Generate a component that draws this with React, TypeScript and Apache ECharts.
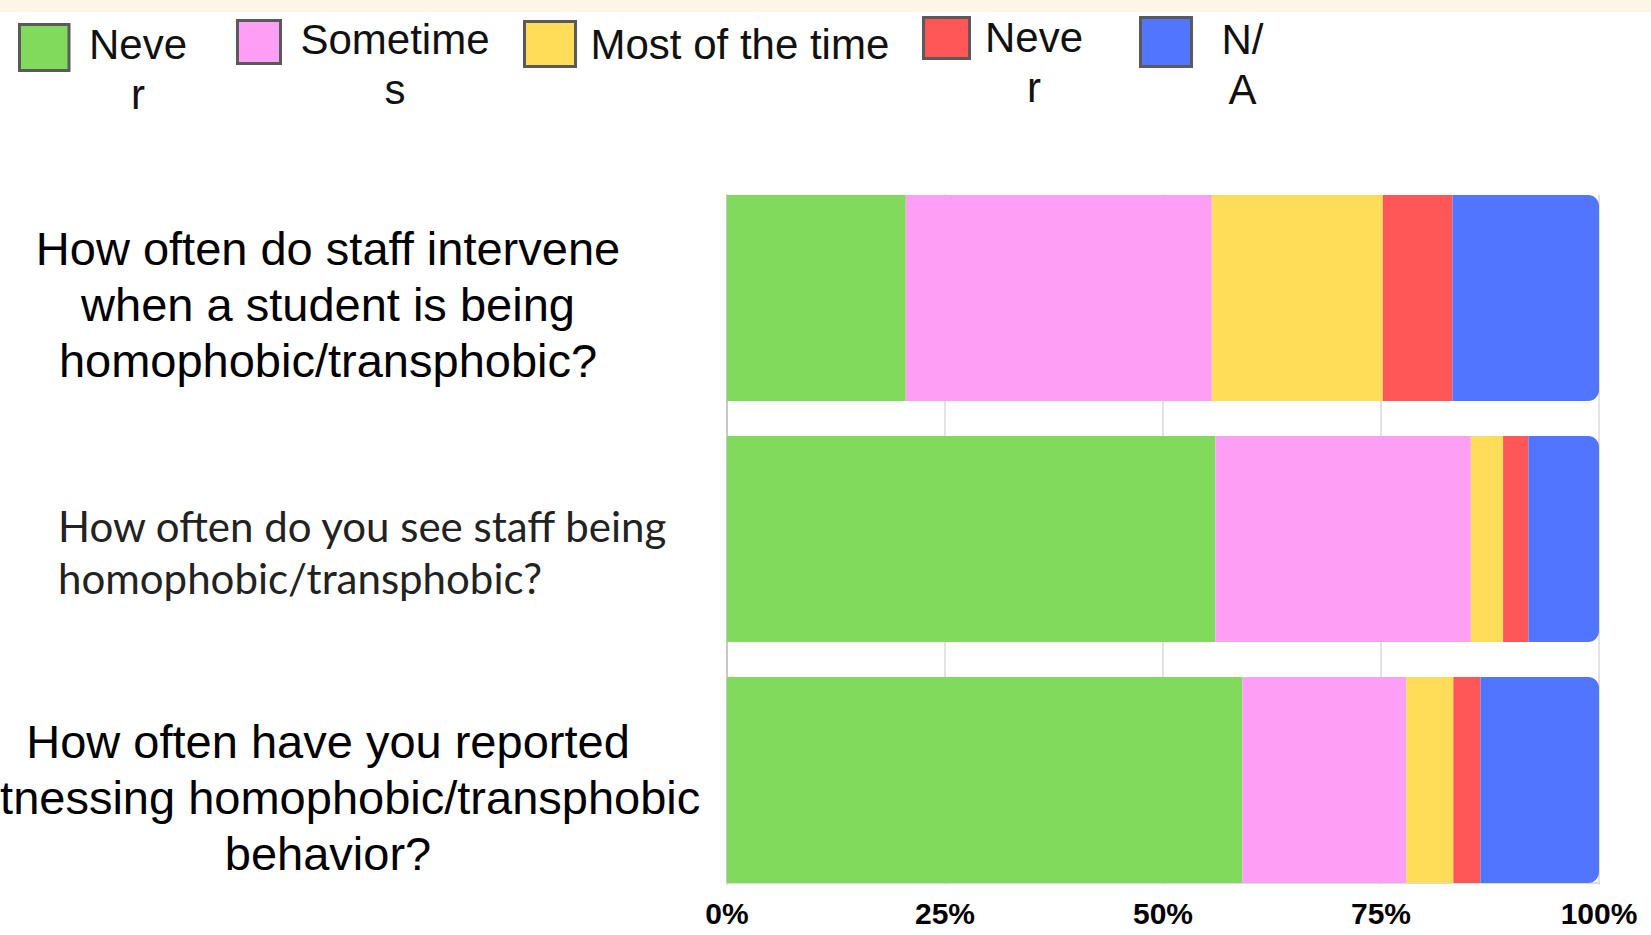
import { useEffect, useRef } from 'react';
import * as echarts from 'echarts';

// Survey questions (category axis, top to bottom)
const questions = [
  'How often do staff intervene\nwhen a student is being\nhomophobic/transphobic?',
  'How often do you see staff being\nhomophobic/transphobic?',
  'How often have you reported\nwitnessing homophobic/transphobic\nbehavior?',
];

// Response options, in stacking order
const responseNames = ['Never', 'Sometimes', 'Most of the time', 'Never', 'N/A'];
// How each legend entry wraps inside its narrow legend cell
const responseLegendLines = [['Neve', 'r'], ['Sometime', 's'], ['Most of the time'], ['Neve', 'r'], ['N/', 'A']];

// Share of answers per question (%)
const neverFirst = [20.5, 56.0, 59.1];
const sometimes = [35.1, 29.3, 18.8];
const mostOfTheTime = [19.6, 3.7, 5.4];
const neverSecond = [8.0, 2.9, 3.1];
const notApplicable = [16.8, 8.1, 13.6];

const percentTicks = [0, 25, 50, 75, 100];

const seriesValues = [neverFirst, sometimes, mostOfTheTime, neverSecond, notApplicable];
const seriesKeys = ['never-first', 'sometimes', 'most', 'never-second', 'na'];
const seriesColors = ['#82da5c', '#fd9ff5', '#ffdd59', '#ff5757', '#5275ff'];

// Plot geometry
const GRID_LEFT = 727;
const GRID_RIGHT = 52;
const GRID_TOP = 177.5;
const BAND = 241;
const BAR_GAP = 35;
const GRID_HEIGHT = BAND * questions.length;

// Legend cell placement
const legendCells = [
  { left: 18, top: 23, w: 49.5, h: 46, tokenWidth: 128, align: 'center', pad: [43, 0, 0, 0] },
  { left: 236, top: 18, w: 43, h: 43, tokenWidth: 219, align: 'center', pad: [44, 0, 0, 0] },
  { left: 523, top: 20, w: 51, h: 45, tokenWidth: 300, align: 'left', pad: [0, 0, 0, 10] },
  { left: 922, top: 16, w: 46, h: 41, tokenWidth: 119, align: 'center', pad: [48, 0, 0, 0] },
  { left: 1139, top: 16, w: 51, h: 49, tokenWidth: 92, align: 'center', pad: [44, 0, 0, 0] },
];

// Downward nudge of each question label
const labelShift = [12, 26, 34];

export default function App() {
  const ref = useRef<HTMLDivElement>(null);

  useEffect(() => {
    if (!ref.current) return;
    const chart = echarts.init(ref.current, undefined, { renderer: 'svg' });

    const legends = legendCells.map((cell, i) => ({
      data: [seriesKeys[i]],
      left: cell.left,
      top: cell.top,
      padding: 0,
      icon: 'rect',
      itemWidth: cell.w,
      itemHeight: cell.h,
      selectedMode: false,
      itemStyle: { borderColor: '#5a5a5a', borderWidth: 3 },
      formatter: () => responseLegendLines[i].map((l) => `{t|${l}}`).join('\n'),
      textStyle: {
        padding: cell.pad[0] ? [cell.pad[0], 0, 0, 0] : 0,
        rich: {
          t: {
            fontFamily: 'Liberation Sans',
            fontSize: 42,
            lineHeight: 50,
            color: '#111',
            width: cell.align === 'center' ? cell.tokenWidth : undefined,
            align: cell.align,
            padding: cell.align === 'left' ? cell.pad : 0,
          },
        },
      },
    }));

    const labelRich = {
      q0: { fontFamily: 'Liberation Sans', fontSize: 47, lineHeight: 56, width: 766, align: 'center', color: '#000' },
      q1: { fontFamily: 'Lato', fontSize: 42, lineHeight: 52, width: 653, align: 'left', color: '#222' },
      q2: { fontFamily: 'Liberation Sans', fontSize: 47, lineHeight: 56, width: 766, align: 'center', color: '#000' },
    };

    const halfGap = BAR_GAP / 2;
    const gridBottomY = GRID_TOP + GRID_HEIGHT;

    chart.setOption({
      animation: false,
      backgroundColor: '#ffffff',
      legend: legends,
      grid: {
        left: GRID_LEFT,
        right: GRID_RIGHT,
        top: GRID_TOP,
        height: GRID_HEIGHT,
        containLabel: false,
        outerBoundsMode: 'none',
      },
      xAxis: {
        type: 'value',
        min: percentTicks[0],
        max: percentTicks[percentTicks.length - 1],
        interval: percentTicks[1] - percentTicks[0],
        offset: -halfGap,
        axisLine: { show: true, lineStyle: { color: '#dcdcdc', width: 2 } },
        axisTick: { show: false },
        splitLine: { show: true, lineStyle: { color: '#e2e2e2', width: 2 } },
        axisLabel: {
          formatter: '{value}%',
          fontFamily: 'Liberation Sans',
          fontWeight: 'bold',
          fontSize: 30,
          color: '#000',
          margin: 15,
        },
      },
      yAxis: {
        type: 'category',
        inverse: true,
        data: questions.map((q, i) => ({ value: q, textStyle: { padding: [labelShift[i], 0, 0, 0] } })),
        axisLine: { show: true, lineStyle: { color: '#c8c8c8', width: 2 } },
        axisTick: { show: false },
        splitLine: { show: false },
        axisLabel: {
          interval: 0,
          margin: 16,
          formatter: (value: string, index: number) =>
            value
              .split('\n')
              .map((l) => `{q${index}|${l}}`)
              .join('\n'),
          rich: labelRich,
        },
      },
      series: seriesValues.map((vals, i) => ({
        type: 'bar',
        name: seriesKeys[i],
        stack: 'total',
        barCategoryGap: `${(BAR_GAP / BAND) * 100}%`,
        data: vals,
        itemStyle: {
          color: seriesColors[i],
          borderRadius: i === seriesValues.length - 1 ? [0, 11, 11, 0] : 0,
        },
        emphasis: { disabled: true },
      })),
      graphic: [
        // cream strip along the top edge
        { type: 'rect', z: 1, silent: true, shape: { x: 0, y: 0, width: 1651, height: 12 }, style: { fill: '#fff5e6' } },
        // keep grid lines only between the bars
        {
          type: 'rect', z: 1, silent: true,
          shape: { x: GRID_LEFT - 8, y: GRID_TOP - 4, width: 1651 - GRID_LEFT, height: halfGap + 3.5 },
          style: { fill: '#ffffff' },
        },
        {
          type: 'rect', z: 1, silent: true,
          shape: { x: GRID_LEFT - 8, y: gridBottomY - halfGap + 1.5, width: 1651 - GRID_LEFT, height: halfGap - 1 },
          style: { fill: '#ffffff' },
        },
      ],
    });

    return () => chart.dispose();
  }, []);

  return <div ref={ref} style={{ position: 'absolute', left: 0, top: 0, width: 1651, height: 935 }} />;
}
